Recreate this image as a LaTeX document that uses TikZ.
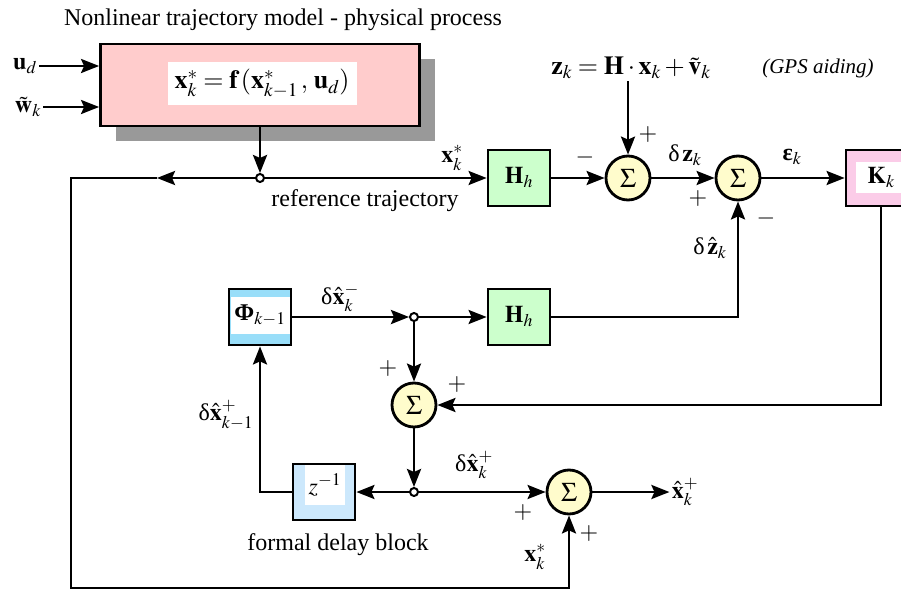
\documentclass[tikz,border=0pt]{standalone}
\usepackage{mathptmx}
\usepackage{fontspec}
\setmainfont{Liberation Serif}
\usetikzlibrary{positioning,arrows.meta,shadows}
\definecolor{zblue}{RGB}{204,232,252}

\begin{document}
\begin{tikzpicture}[x=1pt,y=1pt,line width=2.8pt,
    font=\fontsize{24}{28}\selectfont,
    >={Stealth[length=18pt,width=14pt,inset=3pt]},
    block/.style={rectangle,draw,minimum width=62pt,minimum height=56pt,inner sep=0pt},
    sum/.style={circle,draw,fill=yellow!20,minimum size=44pt,inner sep=0pt,
                font=\fontsize{27}{30}\selectfont},
    junct/.style={circle,draw,fill=white,line width=2pt,minimum size=8pt,inner sep=0pt},
    inner/.style={fill=white,inner sep=0pt},
    lbl/.style={inner sep=1pt},
    eqn/.style={inner sep=1pt,font=\fontsize{26}{30}\selectfont}]
  \useasboundingbox (0,0) rectangle (901,590);
  \clip (0,0) rectangle (901,590);

  \node[rectangle,draw,fill=red!20,minimum width=319pt,minimum height=82pt,
        drop shadow={shadow xshift=15pt,shadow yshift=-15pt,fill=black!40,opacity=1}]
        (proc) at (260,505) {};
  \node[inner,eqn,minimum width=189pt,minimum height=43pt] (model) at (262,506)
       {$\mathbf{x}^*_k=\mathbf{f}\,(\mathbf{x}^*_{k-1}\,,\,\mathbf{u}_d)$};
  \node[lbl] (title) at (283,570) {Nonlinear trajectory model - physical process};
  \node[lbl] (ud) at (25,524) {$\mathbf{u}_d$};
  \node[lbl] (wk) at (28,483) {$\tilde{\mathbf{w}}_k$};

  \node[junct] (j1) at (260,412) {};
  \node[block,fill=green!20] (H1) at (519,412) {$\mathbf{H}_h$};
  \node[sum,right of=H1,node distance=109pt] (S1) {$\Sigma$};
  \node[sum,right of=S1,node distance=110pt] (S2) {$\Sigma$};
  \node[block,fill=magenta!20,minimum width=70pt,right of=S2,node distance=143pt] (K) {};
  \node[inner,minimum width=50pt,minimum height=31pt] (Kin) at (K.center) {$\mathbf{K}_k$};
  \node[eqn] (zmeas) at (631,522) {$\mathbf{z}_k=\mathbf{H}\cdot\mathbf{x}_k+\tilde{\mathbf{v}}_k$};
  \node[lbl,font=\fontsize{21}{25}\selectfont] (gps) at (818,522) {\itshape (GPS aiding)};

  \node[block,fill=cyan!40] (Phi) at (260,273) {};
  \node[inner,minimum width=59pt,minimum height=37pt] (Phiin) at (260,275) {$\mbox{\bfseries Φ}_{k-1}$};
  \node[junct,right of=Phi,node distance=154pt] (j2) {};
  \node[block,fill=green!20,right of=j2,node distance=105pt] (H2) {$\mathbf{H}_h$};
  \node[sum,below of=j2,node distance=88pt] (S3) {$\Sigma$};
  \node[junct,below of=S3,node distance=87pt] (j3) {};
  \node[block,fill=zblue,left of=j3,node distance=90pt] (Z) {};
  \node[inner,minimum width=40pt,minimum height=40pt] (Zin) at (325,105) {$z^{-1}$};
  \node[sum,right of=j3,node distance=155pt] (S4) {$\Sigma$};
  \node[lbl,right of=S4,node distance=116pt] (xout) {$\hat{\mathbf{x}}^+_k$};

  \coordinate (fb) at (157,412);
  \coordinate (corner) at (71,412);
  \coordinate (bot) at (71,2);

  \draw[->] (ud) -- (ud -| proc.west);
  \draw[->] (wk) -- (wk -| proc.west);
  \draw[->] (proc) -- (j1);
  \draw[->] (j1) -- (fb);
  \draw[->] (fb) -- (corner) -- (bot) -| (S4);
  \draw[->] (j1) -- (H1);
  \draw[->] (H1) -- (S1);
  \draw[->] (S1) -- (S2);
  \draw[->] (S2) -- (K);
  \draw[->] (zmeas.south -| S1) -- (S1);
  \draw[->] (K) |- (S3);
  \draw[->] (H2) -| (S2);
  \draw[->] (Phi) -- (j2);
  \draw[->] (j2) -- (H2);
  \draw[->] (j2) -- (S3);
  \draw[->] (S3) -- (j3);
  \draw[->] (j3) -- (Z);
  \draw[->] (j3) -- (S4);
  \draw[->] (Z) -| (Phi);
  \draw[->] (S4) -- (xout);

  \node[lbl] (xs1) at (452,432) {$\mathbf{x}^*_k$};
  \node[lbl] (reftraj) at (365,389) {reference trajectory};
  \node[lbl] (m1) at (585,432) {$-$};
  \node[lbl] (p1) at (648,455) {$+$};
  \node[lbl] (dz) at (685,435) {$\mbox{δ}\,\mathbf{z}_k$};
  \node[lbl] (p2) at (698,391) {$+$};
  \node[lbl] (m2) at (766,372) {$-$};
  \node[lbl] (eps) at (792,433) {$\mbox{\bfseries ε}_k$};
  \node[lbl] (dzh) at (710,342) {$\mbox{δ}\,\hat{\mathbf{z}}_k$};
  \node[lbl] (dxm) at (340,292) {$\mbox{δ}\hat{\mathbf{x}}^-_k$};
  \node[lbl] (p3) at (388,221) {$+$};
  \node[lbl] (p4) at (457,205) {$+$};
  \node[lbl] (dxk1) at (226,175) {$\mbox{δ}\hat{\mathbf{x}}^+_{k-1}$};
  \node[lbl] (dxp) at (474,125) {$\mbox{δ}\hat{\mathbf{x}}^+_k$};
  \node[lbl] (p5) at (523,77) {$+$};
  \node[lbl] (p6) at (589,57) {$+$};
  \node[lbl] (xs2) at (535,33) {$\mathbf{x}^*_k$};
  \node[lbl] (delay) at (338,45) {formal delay block};
\end{tikzpicture}
\end{document}
